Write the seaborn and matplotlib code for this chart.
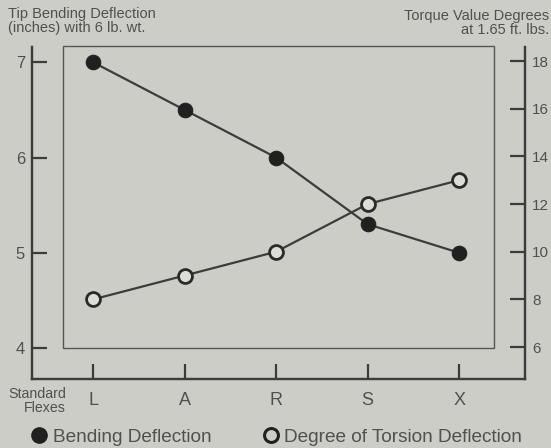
import matplotlib
matplotlib.use("Agg")
import matplotlib.pyplot as plt
import seaborn as sns
import pandas as pd
from matplotlib.patches import Rectangle
from matplotlib.lines import Line2D

flexes = ["L", "A", "R", "S", "X"]
bending = [7.0, 6.5, 6.0, 5.3, 5.0]
torsion = [8, 9, 10, 12, 13]
left_ticks = [4, 5, 6, 7]
right_ticks = [6, 8, 10, 12, 14, 16, 18]

BG = "#cdcdc8"
INK = "#3c3c3c"
TXT = "#505050"

sns.set_theme(style="white")
plt.rcParams["font.family"] = ["Liberation Sans", "DejaVu Sans"]

df = pd.DataFrame({"flex": flexes, "bending": bending, "torsion": torsion})

fig = plt.figure(figsize=(5.51, 4.48), dpi=100, facecolor=BG)
ax = fig.add_axes([32/551, 1-379/448, (525-32)/551, (379-47)/448])
ax.set_facecolor(BG)

sns.lineplot(data=df, x="flex", y="bending", ax=ax, sort=False, color=INK,
             lw=1.6, marker="o", markersize=10.5, markerfacecolor="#202020",
             markeredgecolor="#202020")
ax2 = ax.twinx()
sns.lineplot(data=df, x="flex", y="torsion", ax=ax2, sort=False, color=INK,
             lw=1.6, marker="o", markersize=10, markerfacecolor="#dcdcd8",
             markeredgecolor="#2a2a2a", markeredgewidth=2.0)

ax.set_xlim(-0.667, 4.72)
ax.set_ylim(3.675, 7.16)
ax2.set_ylim(4.66, 18.59)

# inner frame
ax.add_patch(Rectangle((-0.33, 4.0), 4.71, 3.17, fill=False, lw=1.0,
                       edgecolor="#555555", zorder=0, clip_on=False))

for a in (ax, ax2):
    a.set_xlabel("")
    a.set_ylabel("")
    a.grid(False)
    a.spines["top"].set_visible(False)
    for s in ("left", "right", "bottom"):
        a.spines[s].set_color(INK)
        a.spines[s].set_linewidth(1.6)

ax.set_yticks(left_ticks)
ax.set_yticklabels([str(t) for t in left_ticks])
ax.tick_params(axis="y", direction="in", length=11, width=1.6, color=INK,
               labelsize=12, labelcolor=TXT, pad=5, left=True)
ax.tick_params(axis="x", direction="in", length=11, width=1.6, color=INK,
               labelsize=13, labelcolor=TXT, pad=9, bottom=True)
ax2.set_yticks(right_ticks)
ax2.set_yticklabels([str(t) for t in right_ticks])
ax2.tick_params(axis="y", direction="in", length=11, width=1.6, color=INK,
                labelsize=11, labelcolor=TXT, pad=5, right=True)

fig.text(8/551, 1-21/448, "Tip Bending Deflection\n(inches) with 6 lb. wt.",
         fontsize=10.5, color=TXT, ha="left", va="center", linespacing=1.0)
fig.text(549/551, 1-23/448, "Torque Value Degrees\nat 1.65 ft. lbs.",
         fontsize=10.5, color=TXT, ha="right", va="center", linespacing=1.0,
         multialignment="right")
fig.text(66/551, 1-401/448, "Standard\nFlexes", fontsize=10.2, color=TXT,
         ha="right", va="center", multialignment="right", linespacing=1.05)

handles = [
    Line2D([], [], ls="none", marker="o", markersize=11, markerfacecolor="#202020",
           markeredgecolor="#202020"),
    Line2D([], [], ls="none", marker="o", markersize=10, markerfacecolor=BG,
           markeredgecolor="#202020", markeredgewidth=2.2),
]
fig.legend(handles, ["Bending Deflection", "Degree of Torsion Deflection"],
           loc="center", bbox_to_anchor=(278/551, 1-437/448), ncol=2,
           frameon=False, fontsize=13.7, labelcolor=TXT, handlelength=0.6,
           handletextpad=0.42, columnspacing=2.8, borderaxespad=0,
           borderpad=0)

fig.savefig("out.png", dpi=100, facecolor=BG)
